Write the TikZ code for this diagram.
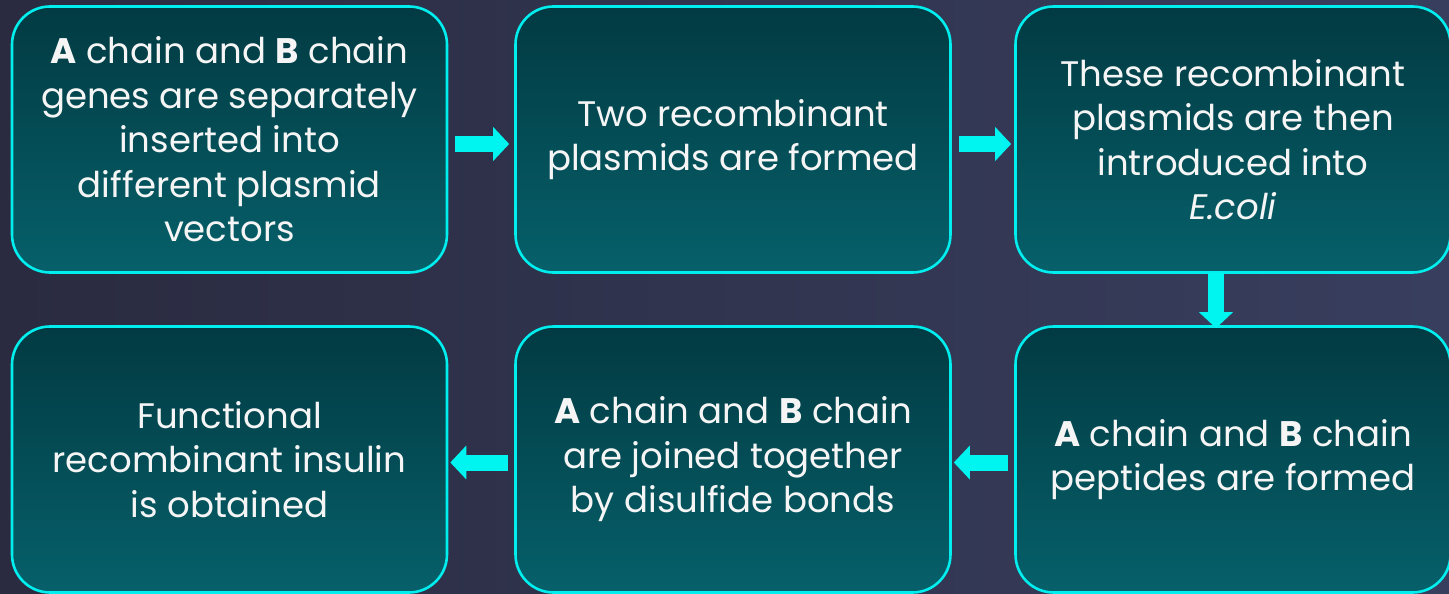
\documentclass[tikz,border=0pt]{standalone}
\usepackage{fontspec}
\setmainfont{Poppins}
\usetikzlibrary{arrows.meta}
\definecolor{bgleft}{RGB}{42,43,64}
\definecolor{bgright}{RGB}{56,62,94}
\definecolor{boxtop}{RGB}{2,58,66}
\definecolor{boxbot}{RGB}{6,96,106}
\definecolor{edge}{RGB}{0,238,238}
\definecolor{flow}{RGB}{0,245,240}
\definecolor{ink}{RGB}{245,245,245}
\tikzset{
  stepbox/.style={draw=edge, line width=2.6pt, rounded corners=38pt,
    top color=boxtop, bottom color=boxbot,
    minimum width=435pt, minimum height=266pt,
    text=ink, align=center, inner sep=0pt,
    font=\fontsize{35.5}{44.5}\selectfont},
  flowarrow/.style={draw=flow, line width=16pt,
    -{Triangle[width=33pt,length=16pt]}},
}
\begin{document}
\begin{tikzpicture}[x=1pt,y=-1pt]
  % backdrop
  \shade[left color=bgleft, right color=bgright] (0,0) rectangle (1449,594);
  \useasboundingbox (0,0) rectangle (1449,594);

  % upper row
  \node[stepbox] (a1) at (229.5,139.5)
    {\textbf{A} chain and \textbf{B} chain\\genes are separately\\inserted into\\different plasmid\\vectors};
  \node[stepbox] (a2) at (733,139.5)
    {Two recombinant\\plasmids are formed};
  \node[stepbox] (a3) at (1233,139.5)
    {These recombinant\\plasmids are then\\introduced into\\\textit{E.coli}};

  % lower row
  \node[stepbox] (a4) at (229.5,459.5)
    {Functional\\recombinant insulin\\is obtained};
  \node[stepbox] (a5) at (733,459.5)
    {\textbf{A} chain and \textbf{B} chain\\are joined together\\by disulfide bonds};
  \node[stepbox] (a6) at (1233,459.5)
    {\textbf{A} chain and \textbf{B} chain\\peptides are formed};

  % connectors
  \draw[flowarrow] ([xshift=7pt,yshift=-4.5pt]a1.east) -- ([xshift=-5pt,yshift=-4.5pt]a2.west);
  \draw[flowarrow] ([xshift=7pt,yshift=-4.5pt]a2.east) -- ([xshift=-3pt,yshift=-4.5pt]a3.west);
  \draw[flowarrow] ([xshift=-17pt,yshift=1pt]a3.south) -- ([xshift=-17pt,yshift=-3pt]a6.north);
  \draw[flowarrow] ([xshift=-6pt,yshift=-3pt]a6.west) -- ([xshift=2pt,yshift=-3pt]a5.east);
  \draw[flowarrow] ([xshift=-6pt,yshift=-3pt]a5.west) -- ([xshift=2pt,yshift=-3pt]a4.east);
\end{tikzpicture}
\end{document}
